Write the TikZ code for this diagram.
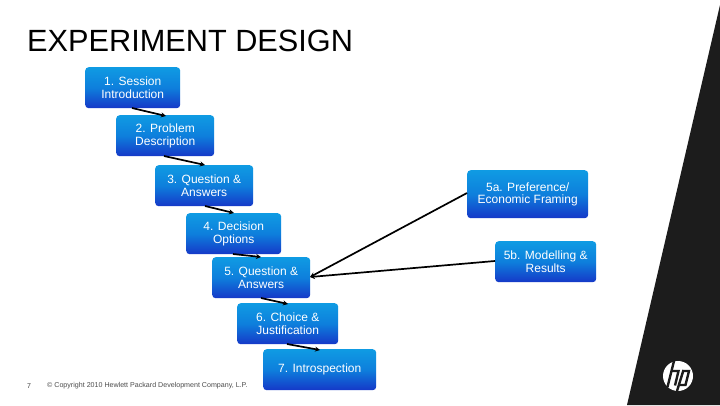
\documentclass[tikz,border=0pt]{standalone}
\usepackage{fontspec}
\setmainfont{Liberation Sans}
\usetikzlibrary{arrows.meta}
\definecolor{boxtop}{HTML}{0F9BE3}
\definecolor{boxmid}{HTML}{0E7FDC}
\definecolor{boxbot}{HTML}{1538C8}
\definecolor{wedge}{HTML}{1C1C1C}
\tikzset{
 x=1pt,y=-1pt,
 flow/.style={rounded corners=3.5pt,top color=boxtop,bottom color=boxbot,middle color=boxmid,draw=none,
   text=white,font=\fontsize{12}{12.5}\selectfont,align=center,anchor=north west,inner sep=0pt},
 link/.style={draw=black,line width=1.7pt,-{Stealth[length=5pt,width=5pt]}},
 logostroke/.style={draw=wedge,line width=2.4pt,line cap=butt,line join=miter},
}
\newcommand{\flowbox}[6]{\node[flow,minimum width=#3pt,minimum height=#4pt] (#5) at (#1,#2) {#6};}
\begin{document}
\begin{tikzpicture}
\useasboundingbox (0,0) rectangle (720,405);
\fill[white] (0,0) rectangle (720,405);
\node[anchor=west,inner sep=0pt,font=\fontsize{30.7}{32}\selectfont,text=black] (title) at (27,41) {EXPERIMENT DESIGN};
\flowbox{85}{67}{95}{41}{b1}{1. Session\\Introduction}
\flowbox{116}{115}{98}{41}{b2}{2. Problem\\Description}
\flowbox{155}{165}{98}{41}{b3}{3. Question \&\\Answers}
\flowbox{186}{213}{95}{41}{b4}{4. Decision\\Options}
\flowbox{212}{257}{98}{41}{b5}{5. Question \&\\Answers}
\flowbox{237}{303}{101}{41}{b6}{6. Choice \&\\Justification}
\flowbox{263}{349}{113}{41}{b7}{7. Introspection}
\flowbox{467}{170}{121}{48}{b5a}{5a. Preference/\\Economic Framing}
\flowbox{495}{241}{101}{41}{b5b}{5b. Modelling \&\\Results}
\coordinate (s1) at (132,108); \coordinate (e1) at (166,116);
\coordinate (s2) at (164,156); \coordinate (e2) at (205,165);
\coordinate (s3) at (205,206); \coordinate (e3) at (234,213);
\coordinate (s4) at (233,254); \coordinate (e4) at (261,257);
\coordinate (s5) at (261,298); \coordinate (e5) at (288,304);
\coordinate (s6) at (287,344); \coordinate (e6) at (320,350);
\coordinate (s5a) at (467,193); \coordinate (s5b) at (495,261); \coordinate (e5x) at (310,277);
\draw[link] (s1) -- (e1);
\draw[link] (s2) -- (e2);
\draw[link] (s3) -- (e3);
\draw[link] (s4) -- (e4);
\draw[link] (s5) -- (e5);
\draw[link] (s6) -- (e6);
\draw[link] (s5a) -- (e5x);
\draw[link] (s5b) -- (e5x);
\node[anchor=west,inner sep=0pt,font=\fontsize{7}{8}\selectfont,text=black!75] (pg) at (27,386) {7};
\node[anchor=west,inner sep=0pt,font=\fontsize{7.1}{8}\selectfont,text=black!70] (cp) at (47,386) {© Copyright 2010 Hewlett Packard Development Company, L.P.};
\fill[wedge] (720,5) -- (720,405) -- (627,405) -- cycle;
\fill[white] (678,376) circle (15);
\draw[logostroke] (674,361) -- (667.5,387);
\draw[logostroke] (671.5,371) -- (678.5,371) -- (675,385.5);
\draw[logostroke] (683.5,370) -- (677,391);
\draw[logostroke] (682,371) -- (689,371) -- (685.5,385) -- (678.5,385);
\end{tikzpicture}
\end{document}
